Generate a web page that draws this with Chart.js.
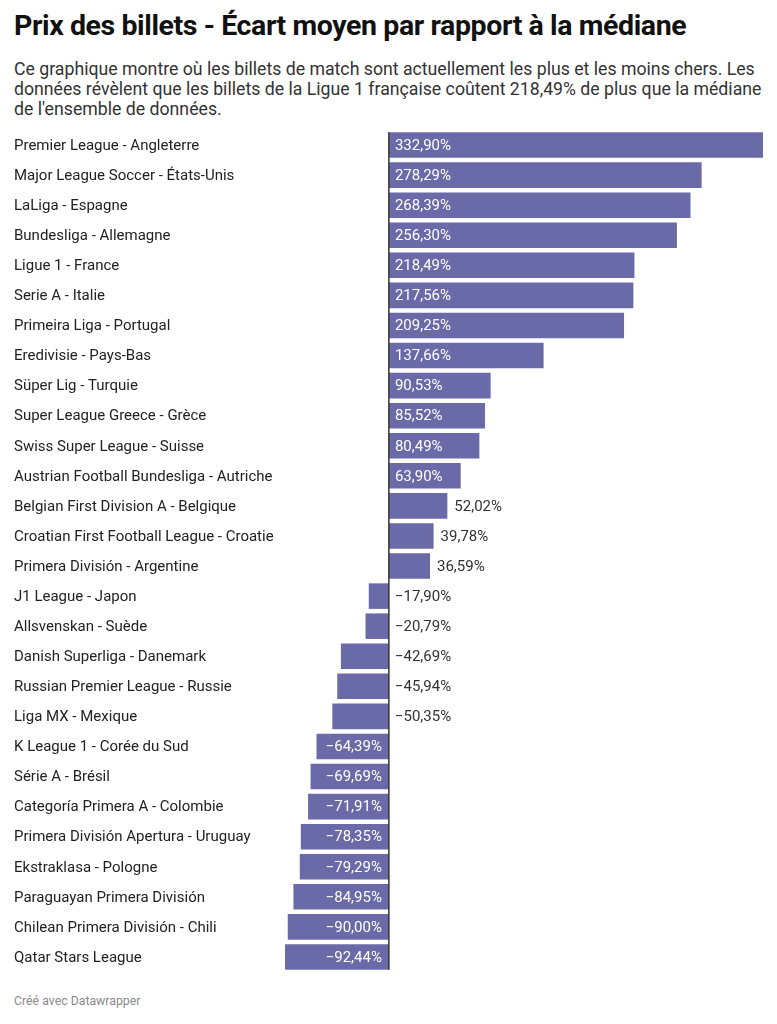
<!DOCTYPE html>
<html>
<head>
<meta charset="utf-8">
<script src="https://cdn.jsdelivr.net/npm/chart.js@4"></script>
<style>
    body { margin: 0; background: #fff; font-family: Roboto, sans-serif; }
    #wrap { position: relative; width: 777px; height: 1024px; }
    h1 { position: absolute; left: 14px; top: 8px; margin: 0; font-size: 28.5px; line-height: 36px; font-weight: 700; color: #111; letter-spacing: -0.4px; white-space: nowrap; }
    #sub { position: absolute; left: 14px; top: 59px; margin: 0; font-size: 17.7px; line-height: 20px; color: #333; white-space: nowrap; }
    #box { position: absolute; left: 0; top: 130px; width: 777px; height: 842px; }
    #foot { position: absolute; left: 14px; top: 994px; font-size: 12.3px; color: #8a8a8a; }
</style>
</head>
<body>
<div id="wrap">
    <h1>Prix des billets - Écart moyen par rapport à la médiane</h1>
    <p id="sub">Ce graphique montre où les billets de match sont actuellement les plus et les moins chers. Les<br>données révèlent que les billets de la Ligue 1 française coûtent 218,49% de plus que la médiane<br>de l'ensemble de données.</p>
    <div id="box"><canvas id="chart"></canvas></div>
    <div id="foot">Créé avec Datawrapper</div>
</div>
<script>
// categories
const leagues = [
    "Premier League - Angleterre",
    "Major League Soccer - États-Unis",
    "LaLiga - Espagne",
    "Bundesliga - Allemagne",
    "Ligue 1 - France",
    "Serie A - Italie",
    "Primeira Liga - Portugal",
    "Eredivisie - Pays-Bas",
    "Süper Lig - Turquie",
    "Super League Greece - Grèce",
    "Swiss Super League - Suisse",
    "Austrian Football Bundesliga - Autriche",
    "Belgian First Division A - Belgique",
    "Croatian First Football League - Croatie",
    "Primera División - Argentine",
    "J1 League - Japon",
    "Allsvenskan - Suède",
    "Danish Superliga - Danemark",
    "Russian Premier League - Russie",
    "Liga MX - Mexique",
    "K League 1 - Corée du Sud",
    "Série A - Brésil",
    "Categoría Primera A - Colombie",
    "Primera División Apertura - Uruguay",
    "Ekstraklasa - Pologne",
    "Paraguayan Primera División",
    "Chilean Primera División - Chili",
    "Qatar Stars League"
];

// ecart vs median, in %
const ecart = [
    332.90, 278.29, 268.39, 256.30, 218.49, 217.56, 209.25, 137.66,
    90.53, 85.52, 80.49, 63.90, 52.02, 39.78, 36.59,
    -17.90, -20.79, -42.69, -45.94, -50.35, -64.39, -69.69, -71.91,
    -78.35, -79.29, -84.95, -90.00, -92.44
];

const barColor = "#6b6aa8";

function fmt(v) {
    const s = Math.abs(v).toFixed(2).replace(".", ",") + "%";
    return v < 0 ? "\u2212" + s : s;
}

// category names on the left + value labels + zero line
const drawExtras = {
    id: "drawExtras",
    afterDatasetsDraw(chart) {
        const ctx = chart.ctx;
        const x = chart.scales.x;
        const y = chart.scales.y;
        const meta = chart.getDatasetMeta(0);
        const zero = x.getPixelForValue(0);

        ctx.save();
        ctx.textBaseline = "middle";

        // names
        ctx.font = "15px Roboto";
        ctx.fillStyle = "#222";
        ctx.textAlign = "left";
        leagues.forEach((name, i) => {
            ctx.fillText(name, 14, y.getPixelForValue(i) + 1);
        });

        // values
        ctx.font = "15px Roboto";
        ecart.forEach((v, i) => {
            const bar = meta.data[i];
            const cy = bar.y + 1;
            const txt = fmt(v);
            const w = ctx.measureText(txt).width;
            const barW = Math.abs(bar.x - zero);
            const inside = barW > w + 12;
            if (v >= 0) {
                if (inside) {
                    ctx.fillStyle = "#fff";
                    ctx.textAlign = "left";
                    ctx.fillText(txt, zero + 6, cy);
                } else {
                    ctx.fillStyle = "#333";
                    ctx.textAlign = "left";
                    ctx.fillText(txt, bar.x + 7, cy);
                }
            } else {
                if (inside) {
                    ctx.fillStyle = "#fff";
                    ctx.textAlign = "right";
                    ctx.fillText(txt, zero - 7, cy);
                } else {
                    ctx.fillStyle = "#333";
                    ctx.textAlign = "left";
                    ctx.fillText(txt, zero + 6, cy);
                }
            }
        });

        // zero line
        const first = meta.data[0];
        const last = meta.data[meta.data.length - 1];
        ctx.strokeStyle = "#333";
        ctx.lineWidth = 1.5;
        ctx.beginPath();
        ctx.moveTo(zero, first.y - first.height / 2);
        ctx.lineTo(zero, last.y + last.height / 2);
        ctx.stroke();
        ctx.restore();
    }
};

new Chart(document.getElementById("chart"), {
    type: "bar",
    data: {
        labels: leagues,
        datasets: [{
            data: ecart,
            backgroundColor: barColor,
            borderWidth: 0,
            categoryPercentage: 1,
            barPercentage: 0.85
        }]
    },
    options: {
        indexAxis: "y",
        responsive: true,
        maintainAspectRatio: false,
        animation: false,
        layout: { padding: { left: 285, right: 14, top: 0, bottom: 0 } },
        scales: {
            x: { display: false, min: -92.44, max: 332.90 },
            y: { display: false }
        },
        plugins: {
            legend: { display: false },
            tooltip: { enabled: false }
        }
    },
    plugins: [drawExtras]
});
</script>
</body>
</html>
